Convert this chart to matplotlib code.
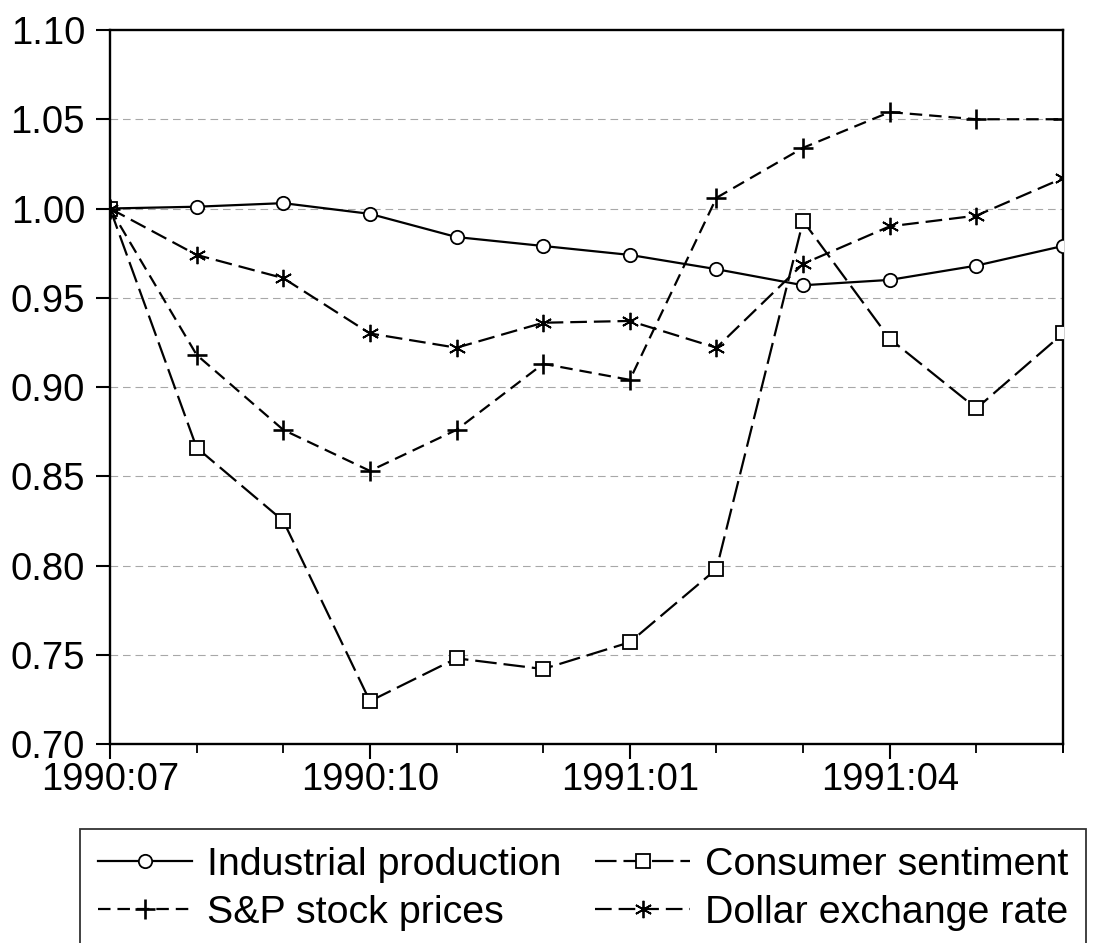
import numpy as np
import matplotlib
matplotlib.use("Agg")
import matplotlib.pyplot as plt
from matplotlib.ticker import FixedLocator, FormatStrFormatter

plt.rcParams['font.family'] = ['Liberation Sans', 'DejaVu Sans']
plt.rcParams['lines.scale_dashes'] = False

# monthly data, 1990:07 - 1991:06 (index = 1 at 1990:07)
months = ['1990:07', '1990:08', '1990:09', '1990:10', '1990:11', '1990:12',
          '1991:01', '1991:02', '1991:03', '1991:04', '1991:05', '1991:06']
industrial = [1.000, 1.001, 1.003, 0.997, 0.984, 0.979,
              0.974, 0.966, 0.957, 0.960, 0.968, 0.979]
consumer = [1.000, 0.866, 0.825, 0.724, 0.748, 0.742,
            0.757, 0.798, 0.993, 0.927, 0.888, 0.930]
sp_stock = [1.000, 0.918, 0.876, 0.853, 0.876, 0.913,
            0.904, 1.006, 1.034, 1.054, 1.050, 1.050]
dollar = [1.000, 0.974, 0.961, 0.930, 0.922, 0.936,
          0.937, 0.922, 0.969, 0.990, 0.996, 1.017]
yticks = [0.70, 0.75, 0.80, 0.85, 0.90, 0.95, 1.00, 1.05, 1.10]

fs = 27.5
lw = 1.6
x = np.arange(len(months))

fig = plt.figure(figsize=(10.96, 9.43), dpi=100)
ax = fig.add_axes([110/1096, 1 - 744/943, (1063 - 110)/1096, (744 - 30)/943])

# grid
for yv in yticks[1:-1]:
    ax.axhline(yv, color='#a8a8a8', lw=0.8, ls=(0, (5.5, 3.5)), zorder=1)

l1, = ax.plot(x, industrial, color='black', lw=lw, ls='-', marker='o',
              ms=9.6, mfc='white', mec='black', mew=1.3, zorder=3,
              label='Industrial production')
l2, = ax.plot(x, consumer, color='black', lw=lw, ls=(0, (15.5, 5.0)), marker='s',
              ms=9.6, mfc='white', mec='black', mew=1.3, zorder=3,
              label='Consumer sentiment')
l3, = ax.plot(x, sp_stock, color='black', lw=lw, ls=(0, (9, 5.0)), marker='+',
              ms=14, mec='black', mew=1.9, zorder=3,
              label='S&P stock prices')
l4, = ax.plot(x, dollar, color='black', lw=lw, ls=(0, (12, 5.0)), marker=(6, 2, 0),
              ms=12.5, mec='black', mew=1.3, zorder=3,
              label='Dollar exchange rate')

ax.set_xlim(0, len(months) - 1)
ax.set_ylim(0.70, 1.10)
ax.set_yticks(yticks)
ax.yaxis.set_major_formatter(FormatStrFormatter('%.2f'))
major = [0, 3, 6, 9]
ax.xaxis.set_major_locator(FixedLocator(major))
ax.xaxis.set_minor_locator(FixedLocator([i for i in x if i not in major] + [11]))
ax.set_xticklabels([months[i] for i in major])

for s in ax.spines.values():
    s.set_linewidth(1.7)
ax.tick_params(axis='y', direction='out', length=10, width=1.5, labelsize=fs, pad=8)
ax.tick_params(axis='x', which='major', direction='out', length=11, width=1.5,
               labelsize=fs, pad=2)
ax.tick_params(axis='x', which='minor', direction='out', length=6.5, width=1.3)

leg = fig.legend([l1, l3, l2, l4],
                 ['Industrial production', 'S&P stock prices',
                  'Consumer sentiment', 'Dollar exchange rate'],
                 ncol=2, loc='upper left', bbox_to_anchor=(80/1096, 1 - 829/943),
                 fontsize=28.4, frameon=True, fancybox=False, edgecolor='black',
                 handlelength=2.4, handletextpad=0.38, columnspacing=0.85,
                 labelspacing=0.3, borderpad=0.45, borderaxespad=0)
leg.get_frame().set_linewidth(1.3)

fig.savefig('out.png', dpi=100)
